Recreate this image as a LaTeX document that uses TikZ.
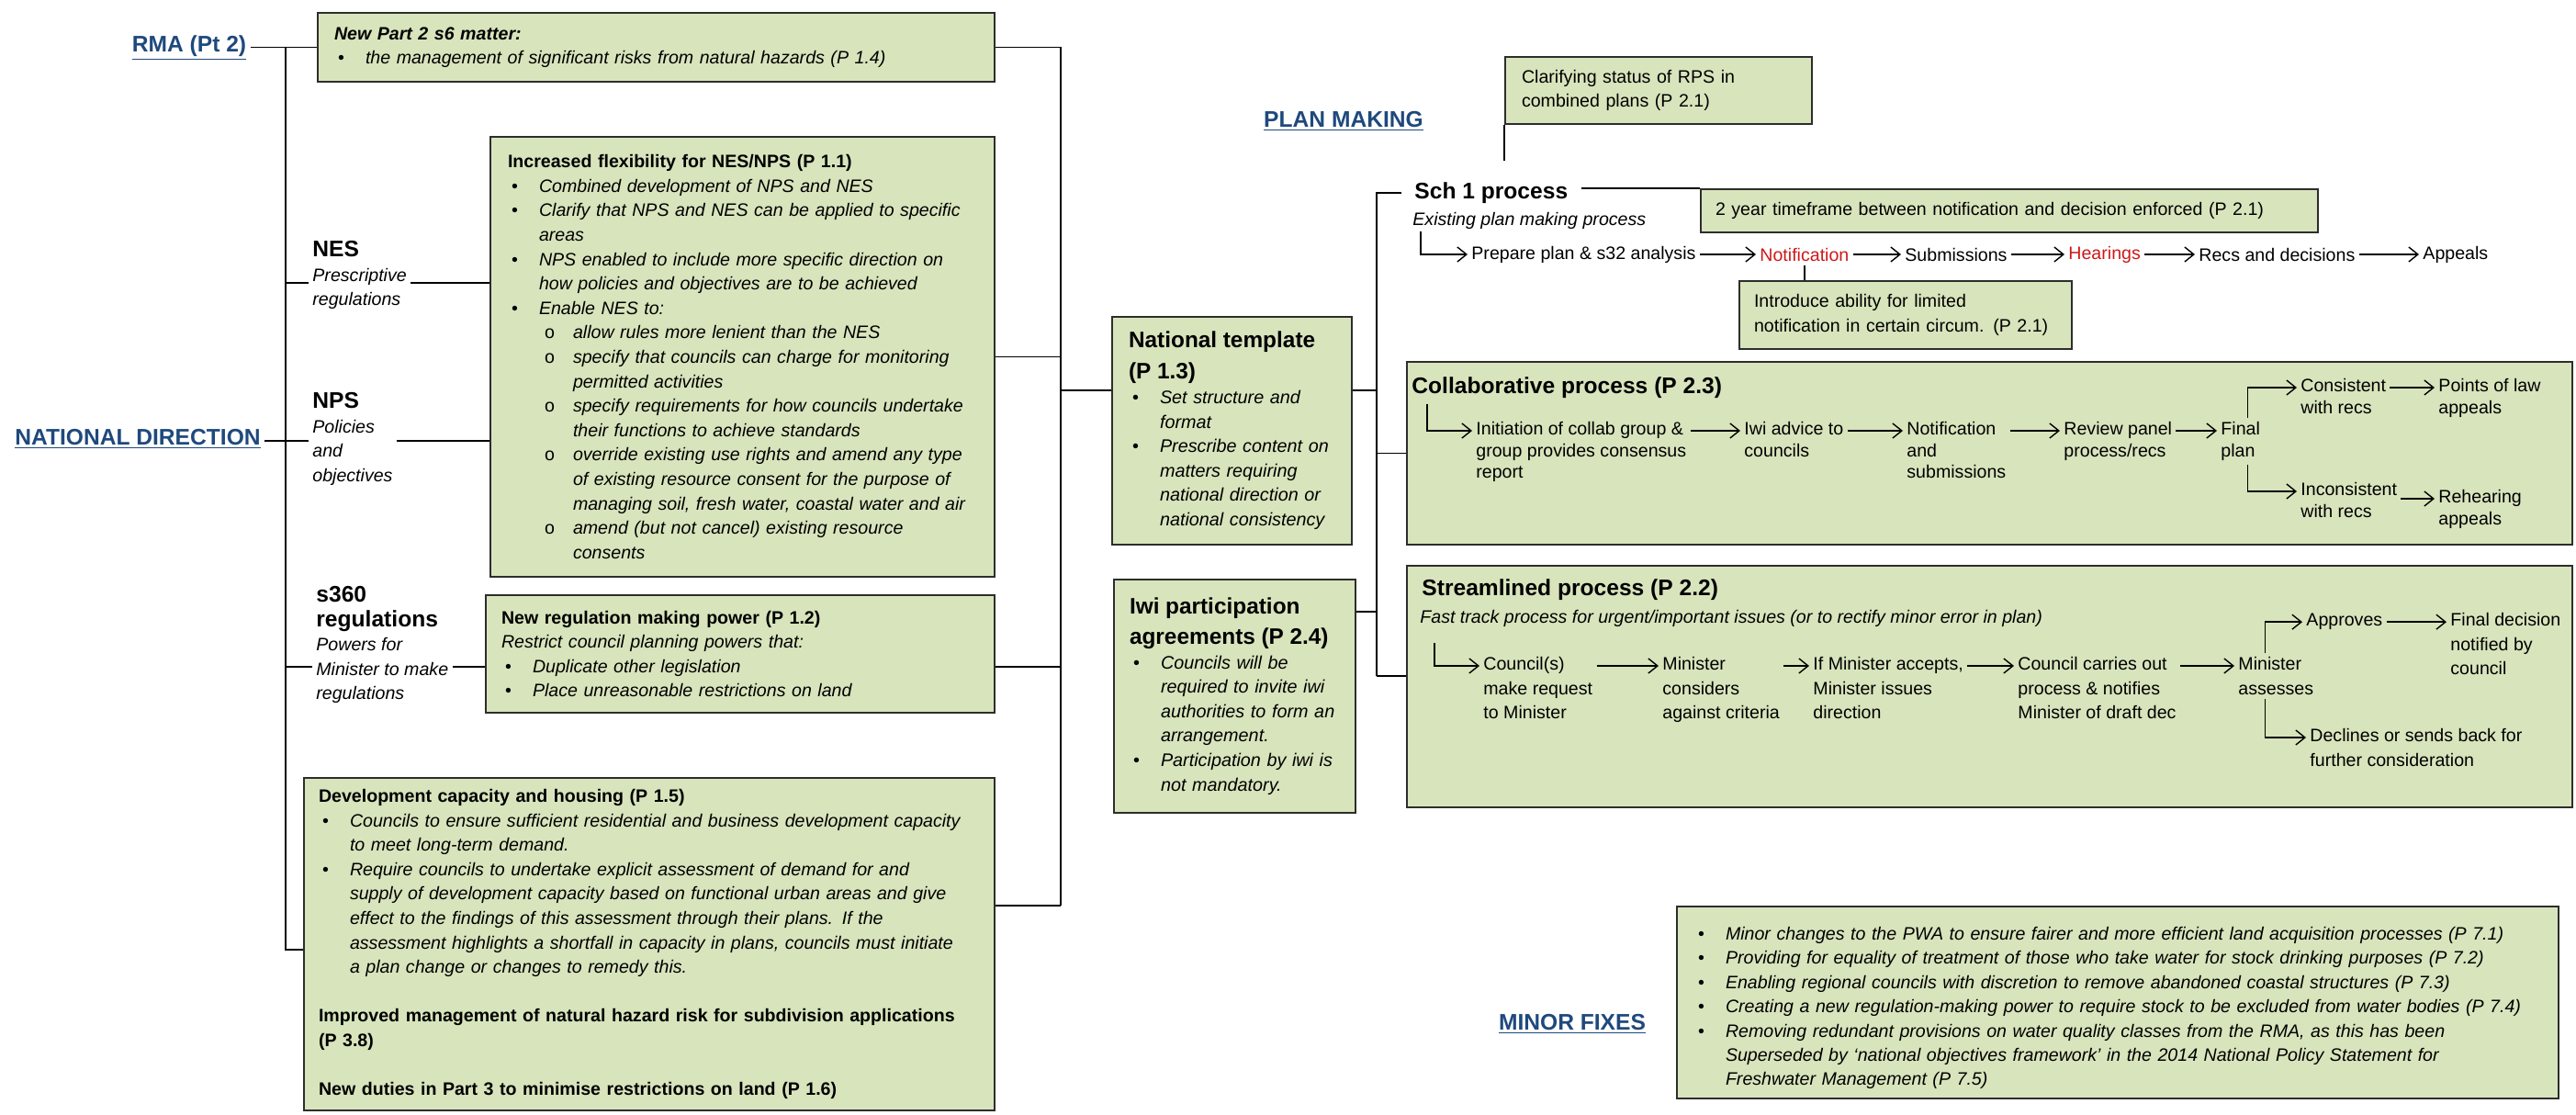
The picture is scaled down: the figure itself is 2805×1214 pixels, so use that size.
\documentclass[tikz,border=0pt]{standalone}
\usepackage{fontspec}
\setmainfont{Liberation Sans}
\usetikzlibrary{positioning,arrows.meta}

\definecolor{boxfill}{RGB}{216,228,188}
\definecolor{boxline}{RGB}{45,45,45}
\definecolor{headblue}{RGB}{31,73,125}
\definecolor{stepred}{RGB}{205,25,25}

\newcommand\bodyf{\fontsize{9.8}{13.3}\selectfont}
\newcommand\flowf{\fontsize{9.8}{11.8}\selectfont}
\newcommand\headf{\fontsize{12.3}{15}\selectfont}
\newcommand\bpt[1]{\par\noindent\hangindent=17pt\hangafter=1\makebox[17pt][l]{\hspace{2pt}\upshape\textbullet}#1\par}
\newcommand\opt[1]{\par\noindent\hangindent=35.5pt\hangafter=1\hspace*{20pt}\makebox[15.5pt][l]{\upshape o}#1\par}
\newcommand\hd[1]{\underline{#1}}
\hyphenpenalty=10000
\exhyphenpenalty=10000

\begin{document}
\begin{tikzpicture}[x=0.5pt, y=-0.5pt,
    greenbox/.style={draw=boxline, fill=boxfill, line width=1pt, anchor=north west, align=left, font=\bodyf, inner ysep=3pt},
    bigbox/.style={draw=boxline, fill=boxfill, line width=1pt, anchor=north west, inner sep=0pt},
    heading/.style={font={\headf\bfseries}, text=headblue, inner sep=2pt},
    sidelabel/.style={anchor=north west, align=left, font=\bodyf, inner sep=2pt},
    stage/.style={anchor=west, font=\bodyf, inner sep=2pt},
    flow/.style={anchor=north west, align=left, font=\bodyf, inner sep=2pt},
    flowc/.style={flow, font=\flowf},
    link/.style={line width=0.7pt},
    arr/.style={link, -{Straight Barb[length=5pt, width=8pt]}}]

    \useasboundingbox (0,0) rectangle (2805,1214);

    % Headings
    \node[heading] (rma)        at (206,52)   {\hd{RMA (Pt 2)}};
    \node[heading] (natdir)     at (150,478)  {\hd{NATIONAL DIRECTION}};
    \node[heading] (planmaking) at (1463,132) {\hd{PLAN MAKING}};
    \node[heading] (minorfixes) at (1712,1115) {\hd{MINOR FIXES}};

    % Side labels
    \node[sidelabel] (neslab)  at (336,258) {{\headf\bfseries NES}\\\textit{Prescriptive}\\\textit{regulations}};
    \node[sidelabel] (npslab)  at (336,423) {{\headf\bfseries NPS}\\\textit{Policies}\\\textit{and}\\\textit{objectives}};
    \node[sidelabel] (s360lab) at (340,634) {{\headf\bfseries s360}\\{\headf\bfseries regulations}\\\textit{Powers for}\\\textit{Minister to make}\\\textit{regulations}};

    % Boxes national direction
    \node[greenbox, text width=350.5pt, inner xsep=9pt, minimum height=37.5pt] (newpart) at (345,13)
        {\noindent\textbf{\textit{New Part 2 s6 matter:}}
         \bpt{\textit{the management of significant risks from natural hazards (P 1.4)}}};

    \node[greenbox, text width=255.5pt, inner xsep=9.5pt, minimum height=239.5pt] (nesbox) at (533,148)
        {\noindent\textbf{Increased flexibility for NES/NPS (P 1.1)}
         \bpt{\textit{Combined development of NPS and NES}}
         \bpt{\textit{Clarify that NPS and NES can be applied to specific\newline areas}}
         \bpt{\textit{NPS enabled to include more specific direction on\newline how policies and objectives are to be achieved}}
         \bpt{\textit{Enable NES to:}}
         \opt{\textit{allow rules more lenient than the NES}}
         \opt{\textit{specify that councils can charge for monitoring\newline permitted activities}}
         \opt{\textit{specify requirements for how councils undertake\newline their functions to achieve standards}}
         \opt{\textit{override existing use rights and amend any type\newline of existing resource consent for the purpose of\newline managing soil, fresh water, coastal water and air}}
         \opt{\textit{amend (but not cancel) existing resource\newline consents}}};

    \node[greenbox, text width=260pt, inner xsep=8.5pt, minimum height=64pt] (s360box) at (528,647)
        {\noindent\textbf{New regulation making power (P 1.2)}\newline
         \textit{Restrict council planning powers that:}
         \bpt{\textit{Duplicate other legislation}}
         \bpt{\textit{Place unreasonable restrictions on land}}};

    \node[greenbox, text width=360pt, inner xsep=8pt, minimum height=181pt] (devbox) at (330,846)
        {\noindent\textbf{Development capacity and housing (P 1.5)}
         \bpt{\textit{Councils to ensure sufficient residential and business development capacity\newline to meet long-term demand.}}
         \bpt{\textit{Require councils to undertake explicit assessment of demand for and\newline supply of development capacity based on functional urban areas and give\newline effect to the findings of this assessment through their plans. If the\newline assessment highlights a shortfall in capacity in plans, councils must initiate\newline a plan change or changes to remedy this.}}
         \vskip13.3pt
         \noindent\textbf{Improved management of natural hazard risk for subdivision applications\newline (P 3.8)}
         \par\vskip13.3pt
         \noindent\textbf{New duties in Part 3 to minimise restrictions on land (P 1.6)}};

    % Middle boxes
    \node[greenbox, text width=112.5pt, inner xsep=9pt, minimum height=124pt, font={\fontsize{9.9}{13.3}\selectfont}] (natbox) at (1210,344)
        {{\noindent\fontsize{12.2}{17}\selectfont\bfseries National template\newline (P 1.3)\par}
         \bpt{\textit{Set structure and\newline format}}
         \bpt{\textit{Prescribe content on\newline matters requiring\newline national direction or\newline national consistency}}};

    \node[greenbox, text width=114.5pt, inner xsep=8.5pt, minimum height=127pt, font={\fontsize{9.9}{13.3}\selectfont}] (iwibox) at (1212,630)
        {{\noindent\fontsize{12.2}{16.5}\selectfont\bfseries Iwi participation\newline agreements~(P~2.4)\par}
         \bpt{\textit{Councils will be\newline required to invite iwi\newline authorities to form an\newline arrangement.}}
         \bpt{\textit{Participation by iwi is\newline not mandatory.}}};

    % Plan making
    \node[greenbox, text width=149pt, inner xsep=9pt, minimum height=36.5pt] (clarbox) at (1638,61)
        {\noindent Clarifying status of RPS in\newline combined plans (P 2.1)};
    \node[greenbox, text width=320pt, inner xsep=8pt, minimum height=23.5pt] (yearbox) at (1851,205)
        {\noindent 2 year timeframe between notification and decision enforced (P 2.1)};
    \node[greenbox, text width=165pt, inner xsep=8pt, minimum height=37pt] (introbox) at (1893,305)
        {\noindent Introduce ability for limited\newline notification in certain circum. (P 2.1)};

    \node[heading, text=black, anchor=west] (sch1) at (1536,210) {Sch 1 process};
    \node[stage, font=\bodyf\itshape] (existing) at (1534,240) {Existing plan making process};

    \node[stage] (prep)  at (1598,277) {Prepare plan \& s32 analysis};
    \node[stage, text=stepred] (notif) at (1912,277) {Notification};
    \node[stage] (subm)  at (2070,277) {Submissions};
    \node[stage, text=stepred] (hear)  at (2248,277) {Hearings};
    \node[stage] (recs)  at (2390,277) {Recs and decisions};
    \node[stage] (appe)  at (2634,277) {Appeals};

    % Collaborative process
    \node[bigbox, minimum width=634.5pt, minimum height=99.5pt] (collab) at (1531,393) {};
    \node[heading, text=black, anchor=west] (ctitle) at (1533,422) {Collaborative process (P 2.3)};
    \node[flowc] (init)   at (1603,455) {Initiation of collab group \&\\group provides consensus\\report};
    \node[flowc] (iwiadv) at (1895,455) {Iwi advice to\\councils};
    \node[flowc] (notsub) at (2072,455) {Notification\\and\\submissions};
    \node[flowc] (review) at (2243,455) {Review panel\\process/recs};
    \node[flowc] (final)  at (2414,455) {Final\\plan};
    \node[flowc] (cons)   at (2501,408) {Consistent\\with recs};
    \node[flowc] (points) at (2651,408) {Points of law\\appeals};
    \node[flowc] (incons) at (2501,521) {Inconsistent\\with recs};
    \node[flowc] (rehear) at (2651,529) {Rehearing\\appeals};

    % Streamlined process
    \node[bigbox, minimum width=634.5pt, minimum height=131.5pt] (stream) at (1531,615) {};
    \node[heading, text=black, anchor=west] (stitle) at (1544,642) {Streamlined process (P 2.2)};
    \node[stage, font=\bodyf\itshape] (ftrack) at (1542,673) {Fast track process for urgent/important issues (or to rectify minor error in plan)};
    \node[flow] (council)  at (1611,711) {Council(s)\\make request\\to Minister};
    \node[flow] (mincons)  at (1806,711) {Minister\\considers\\against criteria};
    \node[flow] (ifmin)    at (1970,711) {If Minister accepts,\\Minister issues\\direction};
    \node[flow] (carries)  at (2193,711) {Council carries out\\process \& notifies\\Minister of draft dec};
    \node[flow] (massess)  at (2433,711) {Minister\\assesses};
    \node[flow] (approves) at (2507,664) {Approves};
    \node[flow] (finaldec) at (2664,663) {Final decision\\notified by\\council};
    \node[flow] (declines) at (2511,789) {Declines or sends back for\\further consideration};

    % Minor fixes
    \node[greenbox, text width=461pt, inner xsep=9.5pt, minimum height=104.5pt, font={\fontsize{9.8}{13.2}\selectfont}] (minorbox) at (1825,986)
        {\bpt{\textit{Minor changes to the PWA to ensure fairer and more efficient land acquisition processes (P 7.1)}}
         \bpt{\textit{Providing for equality of treatment of those who take water for stock drinking purposes (P 7.2)}}
         \bpt{\textit{Enabling regional councils with discretion to remove abandoned coastal structures (P 7.3)}}
         \bpt{\textit{Creating a new regulation-making power to require stock to be excluded from water bodies (P 7.4)}}
         \bpt{\textit{Removing redundant provisions on water quality classes from the RMA, as this has been\newline Superseded by `national objectives framework' in the 2014 National Policy Statement for\newline Freshwater Management (P 7.5)}}};

    % Left trunk
    \coordinate (trunkbot) at (311,1034);
    \coordinate (neslvl)   at (311,308);
    \coordinate (npslvl)   at (311,480);
    \coordinate (s360lvl)  at (311,726);
    \draw[link] (rma.east |- newpart.west) -- (newpart.west);
    \draw[link] (newpart.west -| trunkbot) -- (trunkbot) -- (trunkbot -| devbox.west);
    \draw[link] (neslvl) -- (neslvl -| neslab.west);
    \draw[link] (neslab.east |- neslvl) -- (neslvl -| nesbox.west);
    \draw[link] (natdir.east |- npslvl) -- (npslvl) -- (npslvl -| npslab.west);
    \draw[link] (npslab.east |- npslvl) -- (npslvl -| nesbox.west);
    \draw[link] (s360lvl) -- (s360lvl -| s360lab.west);
    \draw[link] (s360lab.east |- s360lvl) -- (s360lvl -| s360box.west);

    % Collector
    \coordinate (collbot) at (1155,986);
    \coordinate (natlvl)  at (1155,425);
    \draw[link] (newpart.east) -| (collbot);
    \draw[link] (nesbox.east) -- (nesbox.east -| collbot);
    \draw[link] (s360box.east |- s360lvl) -- (s360lvl -| collbot);
    \draw[link] (devbox.east |- collbot) -- (collbot);
    \draw[link] (natlvl) -- (natlvl -| natbox.west);

    % Right trunk
    \coordinate (rbot)   at (1499,736);
    \coordinate (iwilvl) at (1499,666);
    \coordinate (sch1e)  at ([xshift=5pt]sch1.east);
    \draw[link] (natbox.east |- natlvl) -- (natlvl -| rbot);
    \draw[link] (iwibox.east |- iwilvl) -- (iwilvl);
    \draw[link] (collab.west -| rbot) -- (collab.west);
    \draw[link] (rbot) -- (rbot -| stream.west);
    \draw[link] ([xshift=-5pt]sch1.west) -| (rbot);
    \draw[link] (sch1e |- yearbox.north) -- (yearbox.north west);

    % Plan making connectors
    \coordinate (clarend)  at (1638,175);
    \coordinate (schstart) at (1547,252);
    \draw[link] (clarbox.south west) -- (clarend);
    \draw[link] (notif.south) -- (notif.south |- introbox.north);
    \draw[arr] (schstart) |- (prep.west);
    \foreach \a/\b in {prep/notif, notif/subm, subm/hear, hear/recs, recs/appe}
        \draw[arr] (\a.east) -- (\a.east -| \b.west);

    \coordinate (cstart) at (1554,440);
    \coordinate (rlev) at ([yshift=-7pt]rehear.north west);
    \draw[arr] (cstart) |- ([yshift=-7pt]init.north west);
    \foreach \a/\b in {init/iwiadv, iwiadv/notsub, notsub/review, review/final, cons/points}
        \draw[arr] ([yshift=-7pt]\a.north east) -- ([yshift=-7pt]\b.north west);
    \draw[arr] ([xshift=4pt]final.north) |- ([yshift=-7pt]cons.north west);
    \draw[arr] ([xshift=4pt]final.south) |- ([yshift=-7pt]incons.north west);
    \draw[arr] (incons.east |- rlev) -- (rlev);

    \coordinate (sstart) at (1562,700);
    \draw[arr] (sstart) |- ([yshift=-7pt]council.north west);
    \foreach \a/\b in {council/mincons, mincons/ifmin, ifmin/carries, carries/massess}
        \draw[arr] ([yshift=-7pt]\a.north east) -- ([yshift=-7pt]\b.north west);
    \draw[arr] ([xshift=-6pt]massess.north) |- (approves.west);
    \draw[arr] ([xshift=-6pt]massess.south) |- ([yshift=-7pt]declines.north west);
    \draw[arr] (approves.east) -- (approves.east -| finaldec.west);
\end{tikzpicture}
\end{document}
